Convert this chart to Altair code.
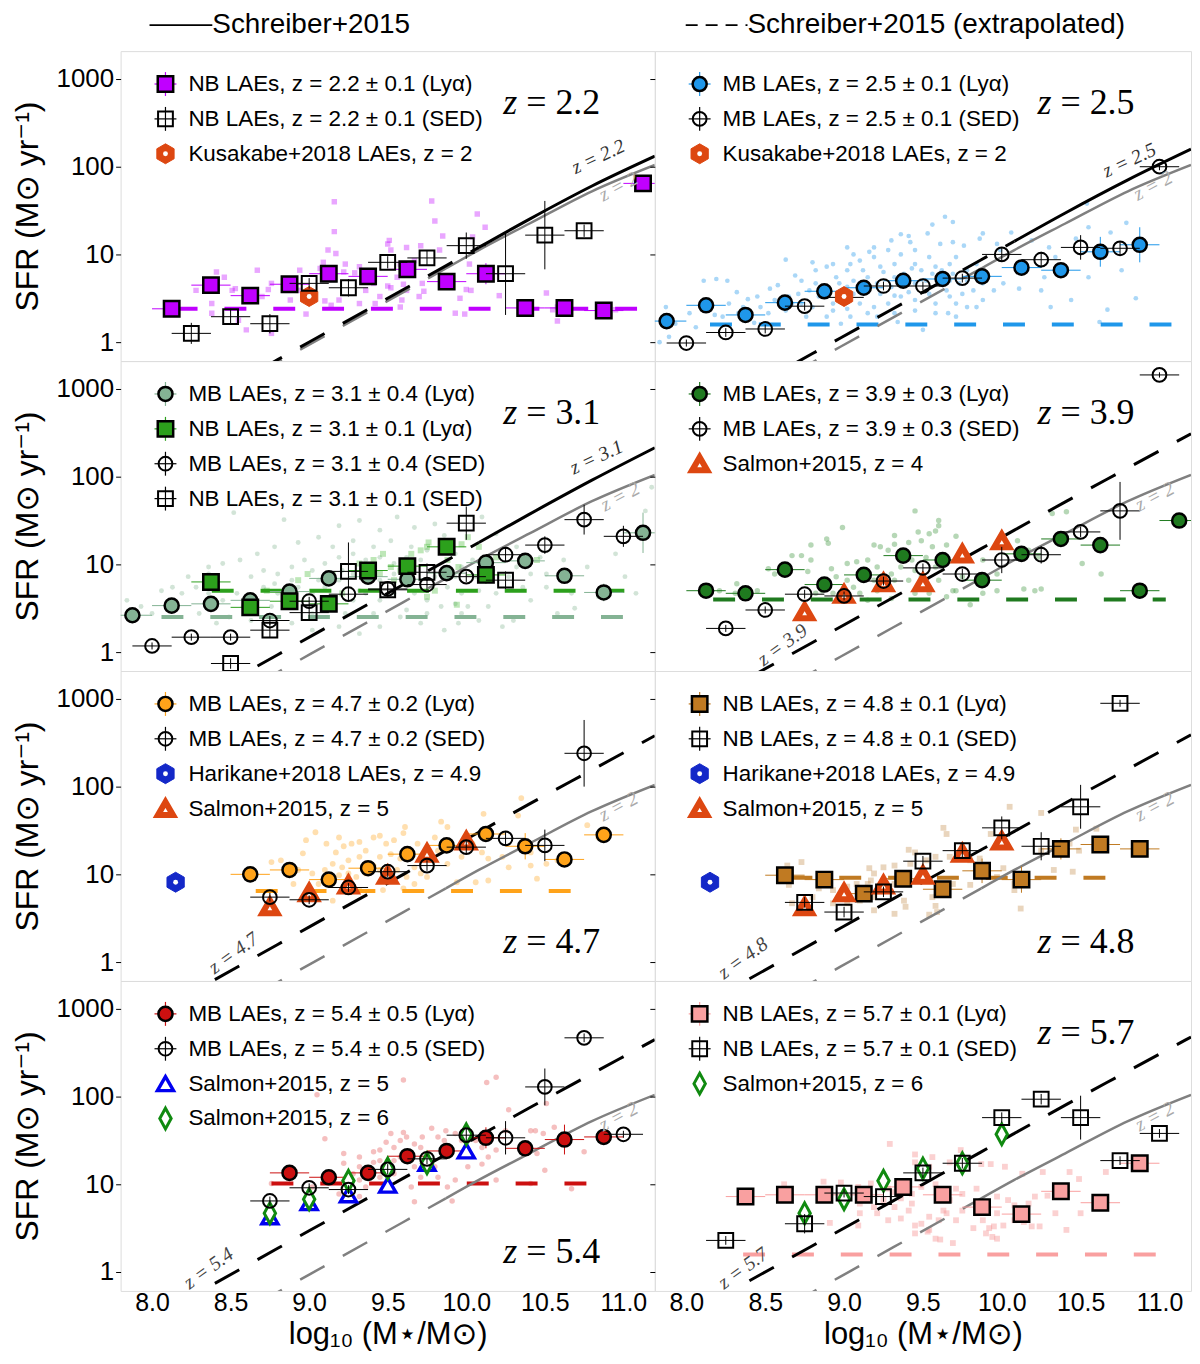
import altair as alt
import pandas as pd

alt.data_transformers.disable_max_rows()

SANS = "Liberation Sans, DejaVu Sans, sans-serif"
SERIF = "Liberation Serif, DejaVu Serif, serif"

X_DOMAIN = [7.8, 11.2]
Y_DOMAIN = [-0.216, 3.318]          # log10 SFR, labelled 1 ... 1000
X_TICKS = [8.0, 8.5, 9.0, 9.5, 10.0, 10.5, 11.0]
Y_TICKS = [0, 1, 2, 3]
XERR = 0.125                        # half width of the mass bins
PANEL_W = [536, 538]
PANEL_H = 311

# ---------------- Schreiber+2015 main sequence ----------------
ms_mass = [8.4, 8.8, 9.2, 9.6, 9.87, 10.08, 10.4, 10.8, 11.2]
ms_z20 = [-0.63, -0.23, 0.17, 0.57, 0.84, 1.05, 1.35, 1.72, 2.02]
ms_z22 = [-0.60, -0.20, 0.20, 0.60, 0.87, 1.08, 1.40, 1.78, 2.12]
ms_z25 = [-0.53, -0.13, 0.27, 0.67, 0.94, 1.15, 1.47, 1.85, 2.20]
ms_z31 = [-0.43, -0.03, 0.37, 0.77, 1.04, 1.25, 1.57, 1.96, 2.33]
ms_z39 = [-0.29, 0.11, 0.51, 0.91, 1.18, 1.39, 1.71, 2.10, 2.49]
ms_z47 = [-0.20, 0.20, 0.60, 1.00, 1.27, 1.48, 1.80, 2.19, 2.58]
ms_z48 = [-0.19, 0.21, 0.61, 1.01, 1.28, 1.49, 1.81, 2.20, 2.59]
ms_z54 = [-0.13, 0.27, 0.67, 1.07, 1.34, 1.55, 1.87, 2.26, 2.65]
ms_z57 = [-0.10, 0.30, 0.70, 1.10, 1.37, 1.58, 1.90, 2.29, 2.68]

# ---------------- literature points ----------------
kusakabe_m, kusakabe_s = [9.0], [0.52]
harikane_m, harikane_s = [8.15], [0.91]
salmon_m = [8.75, 9.0, 9.25, 9.5, 9.75, 10.0]
salmon_z4 = [0.46, 0.66, 0.79, 0.79, 1.12, 1.27]
salmon_z5 = [0.63, 0.79, 0.88, 0.99, 1.24, 1.38]
salmon_z6 = [0.67, 0.83, 1.04, 1.18, 1.24, 1.57]

# ---------------- z = 2.2 (NB) ----------------
p1_lya_m = [8.125, 8.375, 8.625, 8.875, 9.125, 9.375, 9.625, 9.875, 10.125, 10.375, 10.625, 10.875, 11.125]
p1_lya_s = [0.38, 0.65, 0.53, 0.66, 0.78, 0.75, 0.83, 0.69, 0.78, 0.39, 0.39, 0.36, 1.81]
p1_lya_e = [0.04, 0.05, 0.05, 0.05, 0.05, 0.05, 0.08, 0.05, 0.12, 0.04, 0.04, 0.04, 0.05]
p1_sed_m = [8.25, 8.5, 8.75, 9.0, 9.25, 9.5, 9.75, 10.0, 10.25, 10.5, 10.75]
p1_sed_s = [0.10, 0.29, 0.21, 0.67, 0.62, 0.91, 0.96, 1.10, 0.78, 1.22, 1.27]
p1_sed_e = [0.12, 0.09, 0.11, 0.06, 0.10, 0.07, 0.08, 0.15, 0.47, 0.39, 0.07]
p1_cloud = [(9.16, 1.60), (9.78, 1.61), (10.07, 1.46), (9.80, 1.38), (10.12, 1.31), (9.16, 1.26), (9.85, 1.21),
            (9.12, 1.05), (9.17, 1.01), (9.51, 1.16), (9.50, 1.12), (9.52, 1.05), (9.62, 1.08), (9.71, 1.10),
            (9.83, 1.05), (10.04, 1.20), (8.41, 0.80), (8.46, 0.74), (8.67, 0.82), (8.53, 0.61), (8.51, 0.59),
            (8.76, 0.67), (8.74, 0.60), (8.70, 0.52), (8.94, 0.82), (8.89, 0.70), (9.09, 0.91), (9.07, 0.84),
            (9.23, 0.89), (9.22, 0.80), (9.29, 0.79), (9.32, 0.86), (9.41, 0.67), (9.50, 0.64), (9.52, 0.62),
            (9.56, 0.74), (9.58, 0.89), (9.67, 0.93), (9.72, 0.67), (9.73, 0.58), (9.62, 0.59), (9.60, 0.66),
            (9.70, 0.52), (9.36, 0.59), (9.45, 0.52), (9.42, 0.44), (9.59, 0.48), (9.58, 0.40), (9.32, 0.44),
            (9.19, 0.48), (9.10, 0.47), (9.14, 0.42), (8.98, 0.32), (8.88, 0.48), (8.93, 0.59), (8.86, 0.59),
            (8.60, 0.14), (8.55, 0.25), (8.38, 0.33), (8.38, 0.44), (8.28, 0.59), (8.76, 0.10), (10.51, 0.56),
            (10.21, 0.53), (10.00, 0.60), (9.96, 0.50), (9.99, 0.32), (9.93, 0.33), (10.02, 0.89), (10.10, 0.80),
            (10.03, 0.59), (10.58, 0.24), (10.58, 0.40), (10.95, 0.37), (10.55, 0.37)]

# ---------------- z = 2.5 (MB) ----------------
p2_lya_m = [7.875, 8.125, 8.375, 8.625, 8.875, 9.125, 9.375, 9.625, 9.875, 10.125, 10.375, 10.625, 10.875]
p2_lya_s = [0.24, 0.42, 0.31, 0.45, 0.58, 0.62, 0.70, 0.72, 0.75, 0.85, 0.82, 1.03, 1.11]
p2_lya_e = [0.05, 0.05, 0.05, 0.05, 0.05, 0.04, 0.04, 0.04, 0.05, 0.06, 0.05, 0.17, 0.20]
p2_sed_m = [8.0, 8.25, 8.5, 8.75, 9.0, 9.25, 9.5, 9.75, 10.0, 10.25, 10.5, 10.75, 11.0]
p2_sed_s = [-0.01, 0.11, 0.15, 0.41, 0.51, 0.64, 0.64, 0.73, 1.00, 0.94, 1.08, 1.07, 2.00]
p2_sed_e = [0.04, 0.05, 0.05, 0.05, 0.05, 0.05, 0.05, 0.05, 0.08, 0.09, 0.14, 0.08, 0.04]
p2_cloud = [(9.64, 1.43), (9.56, 1.34), (9.69, 1.37), (10.54, 1.58), (10.79, 1.36), (10.55, 1.31), (10.69, 1.25),
            (10.06, 1.25), (9.88, 1.24), (9.36, 1.23), (9.41, 1.21), (9.53, 1.24), (9.30, 1.16), (9.42, 1.14),
            (9.19, 1.08), (9.16, 1.03), (9.02, 1.08), (9.06, 1.00), (8.63, 0.94), (8.80, 0.91), (9.10, 0.93),
            (9.61, 1.12), (9.69, 1.14), (9.86, 1.18), (9.76, 1.10), (9.97, 1.12), (9.99, 1.05), (10.19, 1.16),
            (10.30, 1.08), (10.47, 1.18), (10.34, 0.97), (10.41, 0.82), (10.27, 0.74), (10.01, 0.67), (9.95, 0.59),
            (10.11, 0.61), (10.44, 0.48), (10.31, 0.40), (10.62, 0.23), (10.67, 0.37), (10.85, 0.50), (10.76, 0.82),
            (10.55, 0.74), (10.25, 0.59), (9.84, 0.40), (9.78, 0.40), (9.88, 0.48), (9.71, 0.29), (9.66, 0.33),
            (9.50, 0.14), (9.34, 0.23), (9.21, 0.29), (8.98, 0.21), (8.89, 0.29), (8.76, 0.29), (8.63, 0.36),
            (8.52, 0.33), (8.43, 0.22), (8.33, 0.33), (8.27, 0.44), (8.18, 0.31), (8.11, 0.70), (8.19, 0.72),
            (8.26, 0.70), (8.32, 0.57), (8.39, 0.49), (8.45, 0.52), (8.53, 0.61), (8.58, 0.65), (8.69, 0.76),
            (8.82, 0.82), (8.89, 0.86), (8.95, 0.74), (9.02, 0.82), (9.12, 0.82), (9.23, 0.86), (9.32, 0.89),
            (9.36, 1.00), (9.45, 0.89), (9.54, 0.97), (9.49, 0.82), (9.58, 0.86), (9.67, 0.89), (9.71, 0.97),
            (9.78, 0.82), (9.84, 0.89), (9.88, 0.67), (9.75, 0.55), (9.67, 0.52), (9.58, 0.44), (9.45, 0.48),
            (9.36, 0.52), (9.28, 0.44), (9.19, 0.40), (9.10, 0.44), (9.02, 0.38), (8.93, 0.44), (8.84, 0.52),
            (8.78, 0.59), (8.71, 0.55), (8.65, 0.52), (8.56, 0.48), (8.47, 0.40), (8.36, 0.40), (8.23, 0.29),
            (8.02, 0.33), (7.87, 0.40), (7.93, 0.21), (8.06, 0.17), (7.89, 0.06), (7.83, 0.00), (8.97, 0.67),
            (9.06, 0.70), (9.15, 0.74), (9.21, 0.67), (9.30, 0.63), (9.38, 0.78), (9.45, 0.67), (9.52, 0.70),
            (9.60, 0.67), (9.67, 0.70), (9.73, 0.67), (9.65, 0.59), (9.54, 0.55), (9.41, 0.57), (9.32, 0.53),
            (9.23, 0.55), (9.15, 0.59), (9.06, 0.55), (8.97, 0.55), (8.89, 0.59), (8.82, 0.67), (8.73, 0.70),
            (8.93, 0.89), (9.04, 0.89), (9.19, 0.97), (9.28, 1.05), (9.45, 1.05), (9.32, 0.74), (9.10, 0.67),
            (9.02, 0.63), (9.25, 0.80), (9.43, 0.84), (9.56, 0.78), (9.62, 0.82), (9.69, 0.78), (9.78, 0.70),
            (9.82, 0.59), (9.71, 0.44), (9.58, 0.33), (9.45, 0.36), (9.32, 0.33), (9.15, 0.33), (9.04, 0.29),
            (8.93, 0.36), (8.80, 0.40), (8.73, 0.44), (8.67, 0.44)]

# ---------------- z = 3.1 (MB + NB) ----------------
p3_mb_m = [7.875, 8.125, 8.375, 8.625, 8.875, 9.125, 9.375, 9.625, 9.875, 10.125, 10.375, 10.625, 10.875, 11.125]
p3_mb_s = [0.42, 0.53, 0.55, 0.59, 0.69, 0.84, 0.86, 0.83, 0.90, 1.02, 1.04, 0.87, 0.68, 1.36]
p3_mb_e = [0.04, 0.05, 0.05, 0.05, 0.05, 0.05, 0.05, 0.05, 0.05, 0.06, 0.07, 0.08, 0.10, 0.23]
p3_nb_m = [8.375, 8.625, 8.875, 9.125, 9.375, 9.625, 9.875, 10.125]
p3_nb_s = [0.80, 0.51, 0.58, 0.55, 0.93, 0.98, 1.20, 0.88]
p3_nb_e = [0.06, 0.06, 0.06, 0.06, 0.07, 0.07, 0.08, 0.10]
p3_mbsed_m = [8.0, 8.25, 8.5, 8.75, 9.0, 9.25, 9.5, 9.75, 10.0, 10.25, 10.5, 10.75, 11.0]
p3_mbsed_s = [0.07, 0.17, 0.17, 0.36, 0.58, 0.66, 0.72, 0.77, 0.86, 1.11, 1.22, 1.51, 1.32]
p3_mbsed_e = [0.04, 0.04, 0.04, 0.05, 0.05, 0.05, 0.05, 0.06, 0.06, 0.08, 0.10, 0.17, 0.12]
p3_nbsed_m = [8.5, 8.75, 9.0, 9.25, 9.5, 9.75, 10.0, 10.25]
p3_nbsed_s = [-0.13, 0.25, 0.45, 0.92, 0.71, 0.91, 1.47, 0.82]
p3_nbsed_e = [0.06, 0.08, 0.08, 0.33, 0.08, 0.10, 0.19, 0.10]
p3_cloud = [(8.52, 1.59), (8.84, 1.51), (9.19, 1.44), (9.32, 1.50), (9.45, 1.39), (9.56, 1.54), (9.67, 1.42),
            (9.80, 1.46), (9.86, 1.33), (10.10, 1.54), (10.19, 1.35), (10.32, 1.20), (10.47, 1.08), (10.62, 1.05),
            (10.77, 0.97), (10.95, 1.12), (11.14, 1.61), (11.18, 1.88), (11.01, 0.86), (11.08, 0.67), (10.84, 0.63),
            (10.69, 0.50), (10.58, 0.44), (10.41, 0.59), (10.30, 0.36), (10.23, 0.29), (10.08, 0.36), (9.95, 0.33),
            (9.86, 0.25), (9.71, 0.33), (9.58, 0.40), (9.45, 0.29), (9.32, 0.21), (9.19, 0.29), (9.02, 0.25),
            (8.89, 0.33), (8.73, 0.40), (8.63, 0.36), (8.49, 0.40), (8.41, 0.33), (8.30, 0.44), (8.19, 0.67),
            (8.13, 0.74), (8.06, 0.70), (8.00, 0.44), (7.93, 0.52), (7.84, 0.59), (8.23, 0.86), (8.36, 0.89),
            (8.45, 1.01), (8.56, 1.05), (8.67, 1.12), (8.78, 1.20), (8.93, 1.25), (9.06, 1.31), (9.15, 1.20),
            (9.28, 1.27), (9.41, 1.20), (9.52, 1.27), (9.65, 1.20), (9.75, 1.16), (9.93, 1.12), (10.04, 1.05),
            (10.17, 0.93), (10.27, 0.86), (10.36, 0.74), (10.51, 0.74), (10.67, 0.67), (8.63, 0.86), (8.71, 0.93),
            (8.80, 0.89), (8.89, 0.97), (8.97, 1.05), (9.02, 0.93), (9.10, 1.01), (9.19, 1.08), (9.28, 1.12),
            (9.36, 1.05), (9.45, 1.08), (9.54, 1.01), (9.62, 1.08), (9.71, 1.05), (9.80, 0.97), (9.88, 1.05),
            (9.97, 0.97), (10.06, 0.86), (8.71, 0.74), (8.80, 0.67), (8.93, 0.74), (9.02, 0.67), (9.10, 0.74),
            (9.19, 0.82), (9.28, 0.89), (9.36, 0.86), (9.45, 0.82), (9.54, 0.89), (9.62, 0.86), (9.71, 0.82),
            (9.80, 0.86), (9.88, 0.74), (9.97, 0.67), (10.08, 0.70), (10.19, 0.67), (8.76, 0.52), (8.89, 0.52),
            (9.02, 0.44), (9.15, 0.52), (9.28, 0.59), (9.36, 0.67), (9.45, 0.59), (9.54, 0.67), (9.67, 0.67),
            (9.75, 0.59), (9.84, 0.52), (9.93, 0.55), (10.01, 0.52), (9.23, 0.44), (9.41, 0.44), (9.62, 0.48),
            (9.10, 0.59), (8.54, 0.67), (8.45, 0.59), (8.36, 0.67), (8.58, 0.52), (8.36, 0.97), (8.28, 0.74),
            (9.32, 0.70), (9.21, 0.93), (9.06, 0.82), (8.89, 0.82), (8.78, 0.78), (9.93, 0.86), (10.14, 0.82),
            (10.32, 0.97), (10.41, 0.89), (10.51, 0.89), (9.75, 0.44), (10.14, 0.52), (9.97, 0.44)]
p3_nbcloud = [(9.47, 1.12), (9.52, 0.97), (9.65, 1.12), (9.71, 1.16), (9.75, 1.20), (9.76, 1.25), (9.97, 1.23),
              (10.01, 1.31), (9.88, 1.05), (9.95, 0.97), (8.99, 0.89), (8.93, 0.82), (9.15, 0.89), (9.32, 1.01),
              (9.41, 1.05), (9.58, 0.93), (9.65, 0.89), (9.80, 0.70), (9.75, 0.63), (9.94, 0.54), (10.19, 1.08),
              (10.45, 1.05), (8.73, 0.70), (8.84, 0.67), (9.21, 0.67), (9.54, 0.82), (9.45, 0.89), (10.08, 1.20)]

# ---------------- z = 3.9 (MB) ----------------
p4_lya_m = [8.125, 8.375, 8.625, 8.875, 9.125, 9.375, 9.625, 9.875, 10.125, 10.375, 10.625, 10.875, 11.125]
p4_lya_s = [0.70, 0.67, 0.94, 0.77, 0.88, 1.10, 1.05, 0.82, 1.12, 1.29, 1.22, 0.70, 1.50]
p4_lya_e = [0.05, 0.05, 0.05, 0.05, 0.05, 0.05, 0.05, 0.06, 0.06, 0.08, 0.08, 0.08, 0.08]
p4_sed_m = [8.25, 8.5, 8.75, 9.0, 9.25, 9.5, 9.75, 10.0, 10.25, 10.5, 10.75, 11.0]
p4_sed_s = [0.27, 0.48, 0.66, 0.64, 0.81, 0.96, 0.89, 1.05, 1.11, 1.37, 1.61, 3.16]
p4_sed_e = [0.04, 0.04, 0.05, 0.05, 0.05, 0.05, 0.06, 0.15, 0.10, 0.06, 0.33, 0.03]
p4_cloud = [(9.45, 1.61), (9.60, 1.50), (9.60, 1.44), (9.71, 1.32), (9.54, 1.35), (9.58, 1.38), (9.47, 1.37),
            (9.32, 1.33), (9.19, 1.22), (8.99, 1.42), (8.89, 1.29), (8.90, 1.24), (8.79, 1.22), (8.73, 1.10),
            (8.79, 1.05), (8.67, 1.10), (8.52, 0.95), (8.56, 0.89), (8.77, 0.92), (8.92, 0.95), (9.02, 1.01),
            (9.08, 1.03), (9.15, 1.05), (9.23, 1.20), (9.28, 1.16), (9.32, 1.23), (9.41, 1.25), (9.49, 1.27),
            (9.56, 1.20), (9.65, 1.22), (9.52, 1.08), (9.43, 1.05), (9.36, 0.97), (9.30, 0.89), (9.21, 0.97),
            (9.12, 0.82), (9.06, 0.74), (9.02, 0.82), (8.95, 0.86), (8.86, 0.70), (8.82, 0.67), (8.93, 0.67),
            (9.10, 0.67), (9.21, 0.70), (9.32, 0.82), (9.41, 0.82), (9.49, 0.86), (9.60, 0.82), (9.69, 0.70),
            (9.65, 0.63), (9.80, 0.54), (9.71, 0.70), (9.75, 0.86), (9.88, 1.05), (9.97, 0.89), (10.01, 1.20),
            (10.10, 1.27), (10.17, 1.16), (10.23, 1.08), (10.32, 1.58), (10.41, 1.60), (10.51, 1.01), (10.63, 0.89),
            (10.14, 0.72), (10.21, 0.70), (10.25, 0.72), (9.97, 0.70), (9.88, 0.67), (8.32, 0.78), (8.21, 0.70),
            (8.31, 0.67), (8.45, 0.70), (9.45, 0.67), (9.54, 0.67), (9.02, 0.59), (9.15, 0.59), (9.30, 0.61),
            (9.19, 0.82), (9.45, 0.93), (9.58, 0.97)]

# ---------------- z = 4.7 (MB) ----------------
p5_lya_m = [8.625, 8.875, 9.125, 9.375, 9.625, 9.875, 10.125, 10.375, 10.625, 10.875]
p5_lya_s = [1.00, 1.05, 0.94, 1.07, 1.23, 1.33, 1.46, 1.32, 1.17, 1.45]
p5_lya_e = [0.05, 0.05, 0.05, 0.05, 0.05, 0.06, 0.06, 0.15, 0.06, 0.06]
p5_sed_m = [8.75, 9.0, 9.25, 9.5, 9.75, 10.0, 10.25, 10.5, 10.75]
p5_sed_s = [0.74, 0.71, 0.85, 1.03, 1.10, 1.31, 1.41, 1.33, 2.38]
p5_sed_e = [0.05, 0.05, 0.05, 0.06, 0.06, 0.08, 0.08, 0.18, 0.38]
p5_cloud = [(10.35, 1.87), (10.11, 1.69), (10.33, 1.67), (9.84, 1.60), (9.61, 1.54), (9.60, 1.47), (9.45, 1.44),
            (9.41, 1.42), (9.32, 1.37), (9.27, 1.35), (9.22, 1.32), (9.17, 1.25), (9.11, 1.35), (9.04, 1.48),
            (8.98, 1.39), (8.96, 1.24), (8.82, 1.16), (8.76, 1.14), (8.93, 1.05), (8.90, 0.89), (9.06, 0.89),
            (9.10, 0.95), (9.19, 0.99), (9.30, 0.97), (9.41, 1.10), (9.45, 1.20), (9.52, 1.23), (9.58, 1.18),
            (9.67, 1.08), (9.71, 1.01), (9.75, 1.22), (9.82, 1.27), (9.88, 1.12), (9.97, 1.35), (10.04, 1.35),
            (10.10, 1.25), (10.14, 1.18), (10.23, 1.20), (10.27, 1.08), (10.41, 1.10), (10.45, 0.95), (10.51, 1.12),
            (10.58, 1.16), (10.77, 1.56), (10.84, 1.42), (9.49, 1.35), (9.54, 1.39), (9.36, 1.27), (9.32, 1.20),
            (9.25, 1.16), (9.21, 1.08), (9.15, 1.12), (9.10, 1.05), (9.02, 1.01), (9.15, 0.70), (9.25, 1.01),
            (9.36, 1.01), (9.45, 1.05), (9.56, 1.05), (9.62, 0.97), (9.67, 0.89), (9.75, 0.97), (9.60, 0.84),
            (9.47, 0.82), (9.32, 0.82), (9.94, 0.91), (10.06, 0.91), (10.14, 0.93), (10.41, 1.25), (9.97, 1.20),
            (9.69, 1.35), (9.80, 1.42), (9.88, 1.54), (9.19, 1.42)]

# ---------------- z = 4.8 (NB) ----------------
p6_lya_m = [8.625, 8.875, 9.125, 9.375, 9.625, 9.875, 10.125, 10.375, 10.625, 10.875]
p6_lya_s = [0.99, 0.94, 0.78, 0.95, 0.83, 1.04, 0.94, 1.29, 1.34, 1.29]
p6_lya_e = [0.06, 0.05, 0.06, 0.06, 0.06, 0.14, 0.15, 0.12, 0.06, 0.05]
p6_sed_m = [8.75, 9.0, 9.25, 9.5, 9.75, 10.0, 10.25, 10.5, 10.75]
p6_sed_s = [0.68, 0.57, 0.80, 1.15, 1.27, 1.53, 1.32, 1.77, 2.95]
p6_sed_e = [0.06, 0.06, 0.06, 0.06, 0.08, 0.13, 0.16, 0.25, 0.04]
p6_cloud = [(10.05, 1.77), (10.25, 1.70), (9.63, 1.53), (9.65, 1.46), (9.93, 1.46), (10.47, 1.51), (10.60, 1.52),
            (9.41, 1.28), (9.45, 1.25), (9.58, 1.20), (9.52, 1.16), (9.67, 1.20), (9.80, 1.16), (9.42, 1.12),
            (9.32, 1.10), (9.25, 1.08), (9.16, 1.07), (9.19, 1.01), (9.17, 0.93), (9.15, 0.89), (9.08, 0.89),
            (9.02, 0.86), (8.93, 0.82), (8.84, 0.84), (8.73, 1.14), (8.64, 1.10), (8.65, 0.88), (8.67, 0.67),
            (8.80, 0.74), (8.93, 0.67), (9.02, 0.67), (9.10, 0.70), (9.19, 0.74), (9.28, 0.82), (9.32, 0.89),
            (9.38, 0.70), (9.39, 0.63), (9.32, 0.55), (9.19, 0.59), (9.54, 0.54), (9.58, 0.64), (9.59, 0.57),
            (9.56, 0.74), (9.69, 0.89), (9.80, 0.88), (9.97, 0.97), (10.08, 0.89), (10.33, 1.05), (10.45, 1.03),
            (10.08, 0.82), (10.12, 0.61), (10.25, 1.27), (10.49, 1.27), (10.43, 1.35), (10.01, 1.07), (9.86, 1.18)]

# ---------------- z = 5.4 (MB) ----------------
p7_lya_m = [8.875, 9.125, 9.375, 9.625, 9.875, 10.125, 10.375, 10.625, 10.875]
p7_lya_s = [1.13, 1.08, 1.13, 1.32, 1.38, 1.53, 1.41, 1.51, 1.54]
p7_lya_e = [0.05, 0.05, 0.05, 0.05, 0.05, 0.12, 0.06, 0.17, 0.06]
p7_sed_m = [8.75, 9.0, 9.25, 9.5, 9.75, 10.0, 10.25, 10.5, 10.75, 11.0]
p7_sed_s = [0.81, 0.96, 0.94, 1.17, 1.29, 1.56, 1.53, 2.11, 2.67, 1.57]
p7_sed_e = [0.05, 0.05, 0.05, 0.06, 0.06, 0.08, 0.19, 0.21, 0.05, 0.04]
p7_cloud = [(9.60, 2.19), (10.19, 2.22), (10.13, 2.16), (9.05, 2.02), (10.27, 1.85), (10.51, 1.92), (9.78, 1.64),
            (9.87, 1.61), (9.99, 1.61), (9.60, 1.59), (9.52, 1.58), (9.72, 1.54), (9.58, 1.50), (9.49, 1.48),
            (9.54, 1.42), (9.45, 1.39), (9.41, 1.37), (9.32, 1.31), (9.22, 1.35), (9.10, 1.52), (9.22, 1.24),
            (9.32, 1.20), (9.41, 1.25), (9.47, 1.20), (9.62, 1.54), (9.67, 1.46), (9.71, 1.42), (9.75, 1.35),
            (9.82, 1.54), (9.86, 1.50), (9.93, 1.58), (9.97, 1.50), (10.06, 1.50), (10.10, 1.42), (10.14, 1.31),
            (10.19, 1.39), (10.10, 1.23), (10.25, 1.61), (10.41, 1.61), (10.45, 1.35), (10.50, 1.16), (10.56, 1.65),
            (10.75, 1.37), (10.67, 0.95), (10.19, 1.05), (10.01, 1.20), (9.93, 1.05), (9.88, 0.97), (9.82, 1.08),
            (9.67, 1.20), (9.65, 0.97), (9.54, 1.12), (9.45, 1.08), (9.36, 0.97), (9.32, 0.86), (9.19, 0.89),
            (9.10, 1.05), (9.02, 0.97), (8.76, 1.01), (9.67, 0.80), (9.91, 0.81), (10.41, 1.01), (10.44, 1.61),
            (10.49, 1.58), (9.71, 1.08), (9.80, 1.20), (9.32, 1.05), (9.28, 1.12), (9.45, 1.27), (9.58, 1.31),
            (9.54, 1.27)]

# ---------------- z = 5.7 (NB) ----------------
p8_lya_m = [8.375, 8.625, 8.875, 9.125, 9.375, 9.625, 9.875, 10.125, 10.375, 10.625, 10.875]
p8_lya_s = [0.86, 0.88, 0.88, 0.88, 0.97, 0.88, 0.74, 0.66, 0.92, 0.79, 1.24]
p8_lya_e = [0.04, 0.04, 0.04, 0.04, 0.05, 0.05, 0.05, 0.06, 0.06, 0.06, 0.05]
p8_sed_m = [8.25, 8.75, 9.0, 9.25, 9.5, 9.75, 10.0, 10.25, 10.5, 10.75, 11.0]
p8_sed_s = [0.36, 0.55, 0.90, 0.86, 1.13, 1.24, 1.76, 1.97, 1.76, 1.27, 1.58]
p8_sed_e = [0.05, 0.11, 0.05, 0.06, 0.06, 0.06, 0.06, 0.06, 0.25, 0.05, 0.05]
p8_cloud = [(9.29, 1.46), (9.45, 1.34), (9.56, 1.31), (9.45, 1.25), (9.54, 1.20), (9.67, 1.25), (9.74, 1.39),
            (9.87, 1.23), (9.93, 1.23), (10.02, 1.20), (10.13, 1.12), (10.26, 1.14), (10.43, 1.14), (10.49, 1.06),
            (10.66, 1.14), (8.62, 1.00), (8.87, 1.03), (8.98, 1.02), (9.09, 0.97), (9.17, 1.01), (9.28, 0.95),
            (9.32, 0.91), (9.43, 0.89), (9.49, 0.97), (9.58, 1.00), (9.71, 0.95), (9.84, 0.95), (9.97, 0.86),
            (10.04, 0.82), (10.08, 0.76), (10.17, 0.78), (10.21, 0.86), (10.29, 0.87), (10.50, 0.67), (10.41, 0.48),
            (10.34, 0.67), (10.19, 0.52), (10.24, 0.52), (10.14, 0.57), (10.01, 0.53), (9.95, 0.52), (9.88, 0.59),
            (9.84, 0.67), (9.92, 0.50), (9.94, 0.40), (9.97, 0.38), (9.90, 0.44), (9.82, 0.50), (9.71, 0.59),
            (9.65, 0.67), (9.60, 0.59), (9.54, 0.63), (9.49, 0.55), (9.45, 0.53), (9.36, 0.61), (9.28, 0.59),
            (9.21, 0.67), (9.19, 0.74), (9.10, 0.67), (9.09, 0.53), (8.91, 0.56), (9.10, 0.78), (9.25, 0.82),
            (9.32, 0.74), (9.43, 0.78), (9.54, 0.48), (9.53, 0.46), (9.58, 0.38), (9.61, 0.37), (9.63, 0.70),
            (9.75, 0.70), (9.97, 0.67), (10.08, 0.59), (9.75, 0.89), (9.67, 0.82), (9.41, 0.70), (9.45, 0.44),
            (9.69, 0.33), (9.36, 0.84)]

# ---------------- colours ----------------
MAG, BLUE, GREYGREEN, GREEN = "#c000ff", "#1f97ea", "#84b394", "#2ca01c"
DKGREEN, ORANGE, BROWN, RED, PINK = "#1f7a1f", "#ffa31a", "#c07a22", "#cc1010", "#f9a0a0"
ORANGERED, HBLUE, SBLUE, SGREEN = "#dd4711", "#1428c8", "#0000f0", "#108a10"
HEX = "M0,-1L0.866,-0.5L0.866,0.5L0,1L-0.866,0.5L-0.866,-0.5Z"
THIN_DIAMOND = "M0,-1L0.55,0L0,1L-0.55,0Z"
ONE = pd.DataFrame({"k": [0]})


def marker_style(kind, color):
    styles = {
        "sq": dict(shape="square", filled=True, fill=color, stroke="black", strokeWidth=2.5, size=240),
        "ci": dict(shape="circle", filled=True, fill=color, stroke="black", strokeWidth=2.5, size=200),
        "osq": dict(shape="square", filled=False, stroke="black", strokeWidth=2, size=220),
        "oci": dict(shape="circle", filled=False, stroke="black", strokeWidth=2, size=190),
        "hex": dict(shape=HEX, filled=True, fill=color, stroke=color, strokeWidth=1, size=400),
        "tri": dict(shape="triangle-up", filled=True, fill="white", stroke=color, strokeWidth=6, size=230),
        "otri": dict(shape="triangle-up", filled=True, fill="white", stroke=color, strokeWidth=3.4, size=260),
        "dia": dict(shape=THIN_DIAMOND, filled=True, fill="white", stroke=color, strokeWidth=3, size=430),
    }
    return styles[kind]


def xenc(field, show):
    if not show:
        return alt.X(f"{field}:Q", scale=alt.Scale(domain=X_DOMAIN, nice=False, zero=False), axis=None)
    return alt.X(f"{field}:Q", scale=alt.Scale(domain=X_DOMAIN, nice=False, zero=False),
                 axis=alt.Axis(values=X_TICKS, format=".1f", ticks=False, tickSize=0,
                               labelFont=SANS, labelFontSize=25, labelColor="black", labelPadding=0,
                               labelFlush=False, labelOverlap=False, domain=False, grid=False,
                               title="log₁₀ (M⋆/M⊙)", titleFont=SANS, titleFontSize=31,
                               titleFontWeight="normal", titleColor="black", titlePadding=4))


def yenc(field, show):
    return alt.Y(f"{field}:Q", scale=alt.Scale(domain=Y_DOMAIN, nice=False, zero=False),
                 axis=alt.Axis(values=Y_TICKS, labelExpr="format(pow(10, datum.value), 'd')",
                               labels=show, tickSize=5, tickColor="black", labelFont=SANS,
                               labelFontSize=26, labelColor="black", labelPadding=2,
                               labelOverlap=False, domain=False, grid=False,
                               title="SFR (M⊙ yr⁻¹)" if show else None, titleFont=SANS,
                               titleFontSize=32, titleFontWeight="normal", titleColor="black",
                               titlePadding=12))


def series_layers(ser, X, Y):
    kind, color = ser["kind"], ser["color"]
    df = pd.DataFrame({"m": ser["m"], "s": ser["s"]})
    df["lo"] = df["m"] - XERR
    df["hi"] = df["m"] + XERR
    out = []
    if kind in ("sq", "ci", "osq", "oci"):
        ecol = "black" if kind in ("osq", "oci") else color
        if "e" in ser:
            df["slo"] = df["s"] - pd.Series(ser["e"])
            df["shi"] = df["s"] + pd.Series(ser["e"])
        base = alt.Chart(df)
        out.append(base.mark_rule(color=ecol, strokeWidth=1, clip=True).encode(x=X("lo"), x2="hi", y=Y("s")))
        if "e" in ser:
            out.append(base.mark_rule(color=ecol, strokeWidth=1, clip=True).encode(x=X("m"), y=Y("slo"), y2="shi"))
    out.append(alt.Chart(df).mark_point(opacity=1, clip=True, **marker_style(kind, color))
               .encode(x=X("m"), y=Y("s")))
    if kind == "hex":
        out.append(alt.Chart(df).mark_point(shape="circle", filled=True, fill="white", opacity=1, size=24)
                   .encode(x=X("m"), y=Y("s")))
    return out


def legend_layers(entries):
    out = []
    for i, (kind, color, label) in enumerate(entries):
        y = 33 + i * 35
        base = alt.Chart(ONE)
        if kind in ("sq", "ci", "osq", "oci"):
            ecol = "black" if kind in ("osq", "oci") else color
            out.append(base.mark_rule(color=ecol, strokeWidth=1.2).encode(
                x=alt.value(34), x2=alt.value(56), y=alt.value(y)))
            out.append(base.mark_rule(color=ecol, strokeWidth=1.2).encode(
                x=alt.value(45), y=alt.value(y - 12), y2=alt.value(y + 12)))
        out.append(base.mark_point(opacity=1, **marker_style(kind, color)).encode(
            x=alt.value(45), y=alt.value(y)))
        if kind == "hex":
            out.append(base.mark_point(shape="circle", filled=True, fill="white", opacity=1, size=24).encode(
                x=alt.value(45), y=alt.value(y)))
        out.append(base.mark_text(text=label, align="left", baseline="middle", font=SANS, fontSize=22.5,
                                  color="black").encode(x=alt.value(68), y=alt.value(y)))
    return out


PANELS = [
    dict(z="2.2", top=True,
         clouds=[(p1_cloud, "square", MAG, 0.35, 30)],
         limits=[(8.15, 11.15, 0.38, MAG)],
         curves=[(ms_z20, 9.87, "#808080", 2.5), (ms_z22, 10.08, "black", 3)],
         series=[dict(kind="sq", color=MAG, m=p1_lya_m, s=p1_lya_s, e=p1_lya_e),
                 dict(kind="hex", color=ORANGERED, m=kusakabe_m, s=kusakabe_s),
                 dict(kind="osq", color="black", m=p1_sed_m, s=p1_sed_s, e=p1_sed_e)],
         labels=[("z = 2.2", 10.84, 2.11, "#333333", 335), ("z = 2", 10.97, 1.77, "#aaaaaa", 332)],
         legend=[("sq", MAG, "NB LAEs, z = 2.2 ± 0.1 (Lyα)"), ("osq", "black", "NB LAEs, z = 2.2 ± 0.1 (SED)"),
                 ("hex", ORANGERED, "Kusakabe+2018 LAEs, z = 2")]),
    dict(z="2.5", top=True,
         clouds=[(p2_cloud, "circle", BLUE, 0.38, 22)],
         limits=[(8.15, 11.13, 0.20, BLUE)],
         curves=[(ms_z20, 9.87, "#808080", 2.5), (ms_z25, 10.08, "black", 3)],
         series=[dict(kind="ci", color=BLUE, m=p2_lya_m, s=p2_lya_s, e=p2_lya_e),
                 dict(kind="oci", color="black", m=p2_sed_m, s=p2_sed_s, e=p2_sed_e),
                 dict(kind="hex", color=ORANGERED, m=kusakabe_m, s=kusakabe_s)],
         labels=[("z = 2.5", 10.81, 2.07, "#333333", 335), ("z = 2", 10.96, 1.78, "#aaaaaa", 332)],
         legend=[("ci", BLUE, "MB LAEs, z = 2.5 ± 0.1 (Lyα)"), ("oci", "black", "MB LAEs, z = 2.5 ± 0.1 (SED)"),
                 ("hex", ORANGERED, "Kusakabe+2018 LAEs, z = 2")]),
    dict(z="3.1", top=True,
         clouds=[(p3_cloud, "circle", "#5e9e70", 0.28, 24), (p3_nbcloud, "square", "#44bb33", 0.35, 36)],
         limits=[(8.38, 11.07, 0.70, GREEN), (8.06, 11.07, 0.40, GREYGREEN)],
         curves=[(ms_z20, 9.87, "#808080", 2.5), (ms_z31, 10.08, "black", 3)],
         series=[dict(kind="ci", color=GREYGREEN, m=p3_mb_m, s=p3_mb_s, e=p3_mb_e),
                 dict(kind="sq", color=GREEN, m=p3_nb_m, s=p3_nb_s, e=p3_nb_e),
                 dict(kind="oci", color="black", m=p3_mbsed_m, s=p3_mbsed_s, e=p3_mbsed_e),
                 dict(kind="osq", color="black", m=p3_nbsed_m, s=p3_nbsed_s, e=p3_nbsed_e)],
         labels=[("z = 3.1", 10.83, 2.22, "#333333", 335), ("z = 2", 10.98, 1.77, "#aaaaaa", 332)],
         legend=[("ci", GREYGREEN, "MB LAEs, z = 3.1 ± 0.4 (Lyα)"), ("sq", GREEN, "NB LAEs, z = 3.1 ± 0.1 (Lyα)"),
                 ("oci", "black", "MB LAEs, z = 3.1 ± 0.4 (SED)"), ("osq", "black", "NB LAEs, z = 3.1 ± 0.1 (SED)")]),
    dict(z="3.9", top=True,
         clouds=[(p4_cloud, "circle", "#2e8b2e", 0.35, 30)],
         limits=[(8.17, 11.04, 0.60, DKGREEN)],
         curves=[(ms_z20, 9.87, "#808080", 2.5), (ms_z39, None, "black", 3)],
         series=[dict(kind="ci", color=DKGREEN, m=p4_lya_m, s=p4_lya_s, e=p4_lya_e),
                 dict(kind="tri", color=ORANGERED, m=salmon_m, s=salmon_z4),
                 dict(kind="oci", color="black", m=p4_sed_m, s=p4_sed_s, e=p4_sed_e)],
         labels=[("z = 3.9", 8.61, 0.08, "#444444", 324), ("z = 2", 10.97, 1.77, "#aaaaaa", 332)],
         legend=[("ci", DKGREEN, "MB LAEs, z = 3.9 ± 0.3 (Lyα)"), ("oci", "black", "MB LAEs, z = 3.9 ± 0.3 (SED)"),
                 ("tri", ORANGERED, "Salmon+2015, z = 4")]),
    dict(z="4.7", top=False,
         clouds=[(p5_cloud, "circle", ORANGE, 0.35, 34)],
         limits=[(8.66, 10.71, 0.81, ORANGE)],
         curves=[(ms_z20, 9.87, "#808080", 2.5), (ms_z47, None, "black", 3)],
         series=[dict(kind="ci", color=ORANGE, m=p5_lya_m, s=p5_lya_s, e=p5_lya_e),
                 dict(kind="hex", color=HBLUE, m=harikane_m, s=harikane_s),
                 dict(kind="tri", color=ORANGERED, m=salmon_m, s=salmon_z5),
                 dict(kind="oci", color="black", m=p5_sed_m, s=p5_sed_s, e=p5_sed_e)],
         labels=[("z = 4.7", 8.52, 0.10, "#444444", 324), ("z = 2", 10.97, 1.77, "#aaaaaa", 332)],
         legend=[("ci", ORANGE, "MB LAEs, z = 4.7 ± 0.2 (Lyα)"), ("oci", "black", "MB LAEs, z = 4.7 ± 0.2 (SED)"),
                 ("hex", HBLUE, "Harikane+2018 LAEs, z = 4.9"), ("tri", ORANGERED, "Salmon+2015, z = 5")]),
    dict(z="4.8", top=False,
         clouds=[(p6_cloud, "square", "#c8955a", 0.4, 34)],
         limits=[(8.66, 10.67, 0.96, BROWN)],
         curves=[(ms_z20, 9.87, "#808080", 2.5), (ms_z48, None, "black", 3)],
         series=[dict(kind="sq", color=BROWN, m=p6_lya_m, s=p6_lya_s, e=p6_lya_e),
                 dict(kind="hex", color=HBLUE, m=harikane_m, s=harikane_s),
                 dict(kind="tri", color=ORANGERED, m=salmon_m, s=salmon_z5),
                 dict(kind="osq", color="black", m=p6_sed_m, s=p6_sed_s, e=p6_sed_e)],
         labels=[("z = 4.8", 8.36, 0.04, "#444444", 324), ("z = 2", 10.97, 1.77, "#aaaaaa", 332)],
         legend=[("sq", BROWN, "NB LAEs, z = 4.8 ± 0.1 (Lyα)"), ("osq", "black", "NB LAEs, z = 4.8 ± 0.1 (SED)"),
                 ("hex", HBLUE, "Harikane+2018 LAEs, z = 4.9"), ("tri", ORANGERED, "Salmon+2015, z = 5")]),
    dict(z="5.4", top=False,
         clouds=[(p7_cloud, "circle", "#dd2a2a", 0.3, 30)],
         limits=[(8.76, 10.81, 1.01, RED)],
         curves=[(ms_z20, 9.87, "#808080", 2.5), (ms_z54, None, "black", 3)],
         series=[dict(kind="ci", color=RED, m=p7_lya_m, s=p7_lya_s, e=p7_lya_e),
                 dict(kind="otri", color=SBLUE, m=salmon_m, s=salmon_z5),
                 dict(kind="dia", color=SGREEN, m=salmon_m, s=salmon_z6),
                 dict(kind="oci", color="black", m=p7_sed_m, s=p7_sed_s, e=p7_sed_e)],
         labels=[("z = 5.4", 8.36, 0.04, "#444444", 324), ("z = 2", 10.97, 1.77, "#aaaaaa", 332)],
         legend=[("ci", RED, "MB LAEs, z = 5.4 ± 0.5 (Lyα)"), ("oci", "black", "MB LAEs, z = 5.4 ± 0.5 (SED)"),
                 ("otri", SBLUE, "Salmon+2015, z = 5"), ("dia", SGREEN, "Salmon+2015, z = 6")]),
    dict(z="5.7", top=True,
         clouds=[(p8_cloud, "square", "#f58c8c", 0.4, 34)],
         limits=[(8.36, 11.03, 0.20, PINK)],
         curves=[(ms_z20, 9.87, "#808080", 2.5), (ms_z57, None, "black", 3)],
         series=[dict(kind="sq", color=PINK, m=p8_lya_m, s=p8_lya_s, e=p8_lya_e),
                 dict(kind="dia", color=SGREEN, m=salmon_m, s=salmon_z6),
                 dict(kind="osq", color="black", m=p8_sed_m, s=p8_sed_s, e=p8_sed_e)],
         labels=[("z = 5.7", 8.36, 0.04, "#444444", 324), ("z = 2", 10.97, 1.77, "#aaaaaa", 332)],
         legend=[("sq", PINK, "NB LAEs, z = 5.7 ± 0.1 (Lyα)"), ("osq", "black", "NB LAEs, z = 5.7 ± 0.1 (SED)"),
                 ("dia", SGREEN, "Salmon+2015, z = 6")]),
]


def build_panel(p, idx):
    col, row = idx % 2, idx // 2
    X = lambda f: xenc(f, row == 3)
    Y = lambda f: yenc(f, col == 0)
    layers = []
    for pts, shape, color, opacity, size in p["clouds"]:
        df = pd.DataFrame(pts, columns=["m", "s"])
        layers.append(alt.Chart(df).mark_point(shape=shape, filled=True, color=color, opacity=opacity,
                                               size=size, clip=True).encode(x=X("m"), y=Y("s")))
    for lo, hi, level, color in p["limits"]:
        df = pd.DataFrame({"m": [lo], "m2": [hi], "s": [level]})
        layers.append(alt.Chart(df).mark_rule(color=color, strokeWidth=4, strokeDash=[22, 27], clip=True)
                      .encode(x=X("m"), x2="m2", y=Y("s")))
    for vals, split, color, width in p["curves"]:
        df = pd.DataFrame({"m": ms_mass, "s": vals})
        dashed = df if split is None else df[df["m"] <= split]
        layers.append(alt.Chart(dashed).mark_line(color=color, strokeWidth=width, strokeDash=[28, 21],
                                                  interpolate="monotone", clip=True)
                      .encode(x=X("m"), y=Y("s")))
        if split is not None:
            layers.append(alt.Chart(df[df["m"] >= split]).mark_line(color=color, strokeWidth=width,
                                                                      interpolate="monotone", clip=True)
                          .encode(x=X("m"), y=Y("s")))
    for ser in p["series"]:
        layers += series_layers(ser, X, Y)
    for text, m, s, color, angle in p["labels"]:
        df = pd.DataFrame({"m": [m], "s": [s]})
        layers.append(alt.Chart(df).mark_text(text=text, angle=angle, font=SERIF, fontSize=20,
                                              fontStyle="italic", color=color)
                      .encode(x=X("m"), y=Y("s")))
    # big redshift tag
    ty = 52 if p["top"] else 272
    layers.append(alt.Chart(ONE).mark_text(text="z", align="right", baseline="middle", font=SERIF,
                                           fontSize=36, fontStyle="italic", color="black")
                  .encode(x=alt.value(398), y=alt.value(ty)))
    layers.append(alt.Chart(ONE).mark_text(text="= " + p["z"], align="left", baseline="middle", font=SERIF,
                                           fontSize=36, color="black")
                  .encode(x=alt.value(407), y=alt.value(ty)))
    layers += legend_layers(p["legend"])
    # figure-level line-style key above the top row
    if row == 0 and col == 0:
        layers.append(alt.Chart(ONE).mark_rule(color="black", strokeWidth=1.8)
                      .encode(x=alt.value(29), x2=alt.value(92), y=alt.value(-26)))
        layers.append(alt.Chart(ONE).mark_text(text="Schreiber+2015", align="left", baseline="middle",
                                               font=SANS, fontSize=28, color="black")
                      .encode(x=alt.value(92), y=alt.value(-26)))
    if row == 0 and col == 1:
        layers.append(alt.Chart(ONE).mark_rule(color="black", strokeWidth=1.8, strokeDash=[12, 8])
                      .encode(x=alt.value(31), x2=alt.value(93), y=alt.value(-26)))
        layers.append(alt.Chart(ONE).mark_text(text="Schreiber+2015 (extrapolated)", align="left",
                                               baseline="middle", font=SANS, fontSize=28, color="black")
                      .encode(x=alt.value(93), y=alt.value(-26)))
    return alt.layer(*layers).properties(width=PANEL_W[col], height=PANEL_H)


panels = [build_panel(p, i) for i, p in enumerate(PANELS)]

chart = alt.concat(*panels, columns=2, spacing=0, bounds="flush").properties(
    padding={"left": 2, "top": 0, "right": 0, "bottom": 0},
    autosize=alt.AutoSizeParams(type="pad"),
    background="white",
).configure_view(stroke="black", strokeWidth=1.3).configure(font=SANS, padding=0)

chart.save("out.html", embed_options={"renderer": "svg", "actions": False})
